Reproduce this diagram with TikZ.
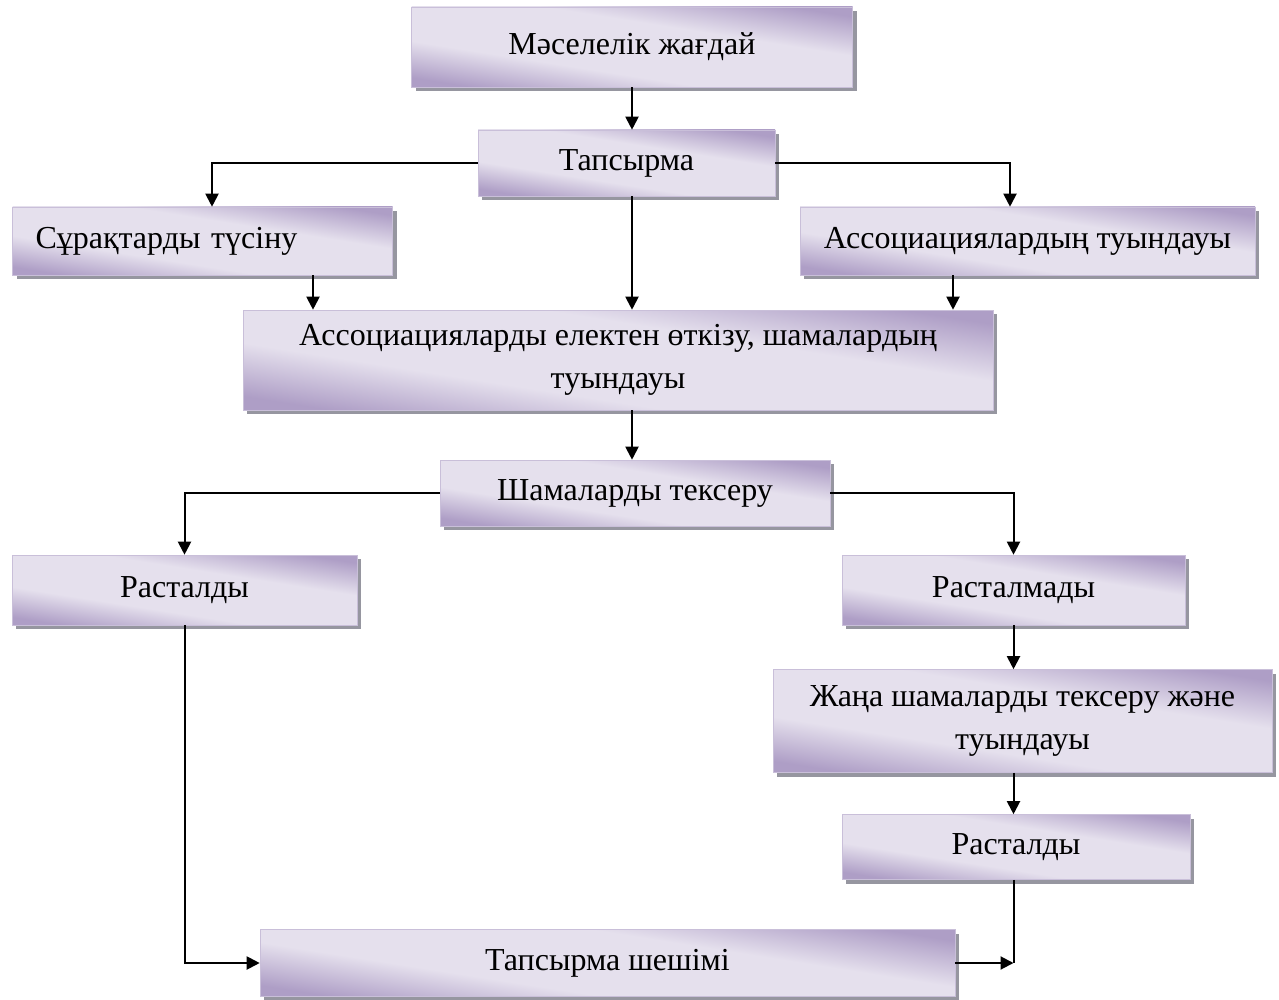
\documentclass[tikz,border=0pt]{standalone}
\usepackage{fontspec}
\setmainfont{Liberation Serif}
\usetikzlibrary{arrows.meta,shadows}
\definecolor{boxdark}{RGB}{174,158,198}
\definecolor{boxlight}{RGB}{229,224,237}
\definecolor{shadowgray}{RGB}{150,150,160}
\pgfdeclareverticalshading{boxshade}{100bp}{color(0bp)=(boxdark); color(25bp)=(boxdark);
    color(39bp)=(boxlight); color(60bp)=(boxlight); color(75bp)=(boxdark); color(100bp)=(boxdark)}

\begin{document}
\begin{tikzpicture}[
    x=0.5pt,
    y=-0.5pt,
    font=\fontsize{16}{21.5}\selectfont,
    blk/.style ={
        shading=boxshade,
        shading angle=-9,
        draw=boxlight!50!boxdark,
        line width=0.3pt,
        align=center,
        inner sep=2pt,
        general shadow={fill=shadowgray, shadow xshift=2pt, shadow yshift=-2pt}
    },
    arr/.style ={
        -{Triangle[length=6.5pt,width=6.5pt]},
        line width=1pt
    }
    ]
    \useasboundingbox (0,0) rectangle (1279,1000);

    \foreach \nm/ \pos/ \w/ \h/ \txt in {
        {mj/(632,47)/220.5/40/Мәселелік жағдай},
        {tap/(626.5,163)/148.5/33/Тапсырма},
        {as/(1027.5,241)/227.5/34/Ассоциациялардың туындауы},
        {el/(618,360)/375/50/{Ассоциацияларды електен өткізу, шамалардың\\туындауы}},
        {sht/(635,493)/195/33/Шамаларды тексеру},
        {ras1/(184.5,590)/172.5/35/Расталды},
        {rasm/(1013.5,590)/171.5/35/Расталмады},
        {jana/(1022.5,721)/249.5/51.5/{Жаңа шамаларды тексеру және\\туындауы}},
        {ras2/(1016,847)/174/32.5/Расталды},
        {shesh/(607.5,963)/347.5/33.5/Тапсырма шешімі}}
        \node[blk, minimum width=\w pt, minimum height=\h pt] (\nm) at \pos {\txt};
    \node[blk, minimum height=34pt, text width=167pt, inner xsep=11.5pt, align=left] (sur) at (202.5,241) {Сұрақтарды түсіну};

    \coordinate (s1) at ([xshift=55.25pt]sur.south);
    \coordinate (a1) at ([xshift=-37.25pt]as.south);
    \coordinate (m) at (rasm.south |- shesh.east);

    \draw[arr] (mj.south) -- (mj.south |- tap.north);
    \draw[arr] (tap.west) -| ([xshift=4.75pt]sur.north);
    \draw[arr] (tap.east) -| ([xshift=-8.75pt]as.north);
    \draw[arr] (mj.south |- tap.south) -- (mj.south |- el.north);
    \draw[arr] (s1) -- (s1 |- el.north);
    \draw[arr] (a1) -- (a1 |- el.north);
    \draw[arr] (mj.south |- el.south) -- (mj.south |- sht.north);
    \draw[arr] (sht.west) -| (ras1.north);
    \draw[arr] (sht.east) -| (rasm.north);
    \draw[arr] (rasm.south) -- (rasm.south |- jana.north);
    \draw[arr] (rasm.south |- jana.south) -- (rasm.south |- ras2.north);
    \draw[arr] (ras1.south) |- (shesh.west);
    \draw[line width=1pt] (rasm.south |- ras2.south) -- (m);
    \draw[arr] (shesh.east) -- (m);
\end{tikzpicture}
\end{document}
